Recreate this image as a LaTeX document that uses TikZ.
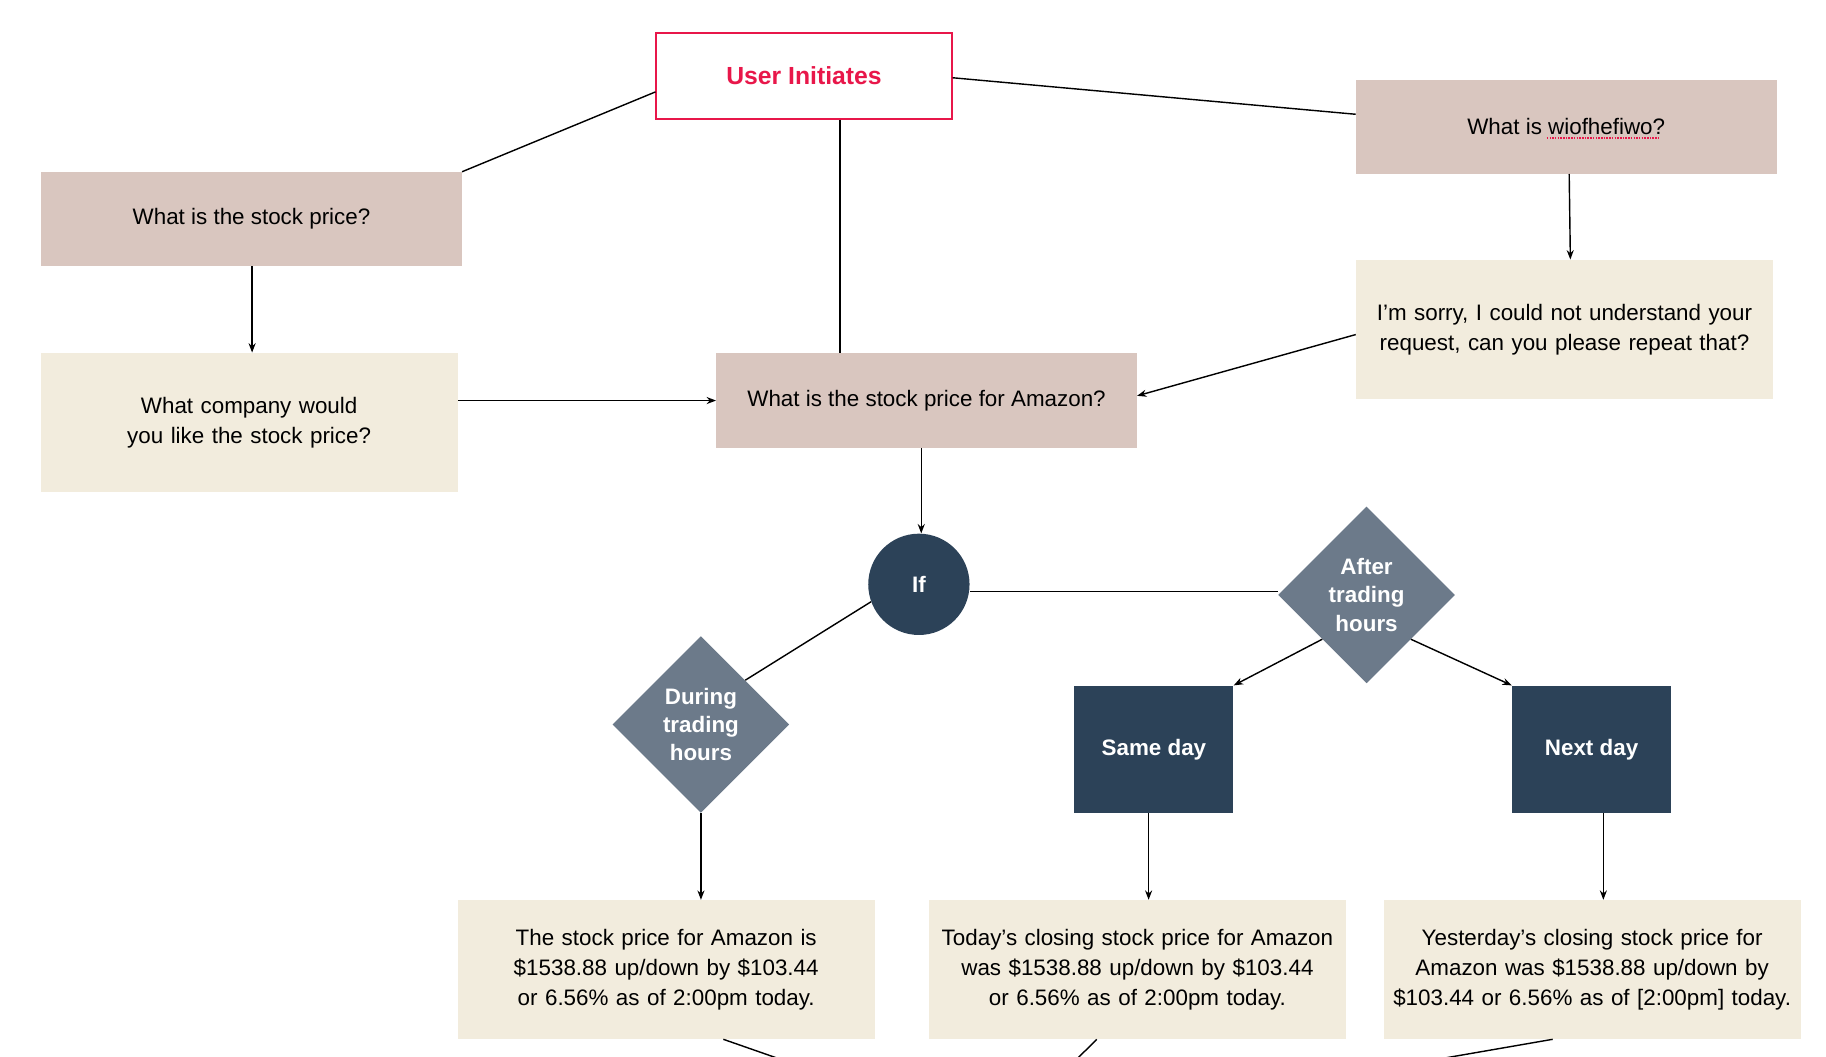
\documentclass[tikz,border=0pt]{standalone}
\usepackage{fontspec}
\setmainfont{Liberation Sans}
\usetikzlibrary{shapes.geometric,arrows.meta}
\definecolor{tan}{HTML}{D9C6BF}
\definecolor{cream}{HTML}{F2ECDD}
\definecolor{navy}{HTML}{2C4258}
\definecolor{slate}{HTML}{6C7A8A}
\definecolor{ured}{HTML}{E8174A}
\begin{document}
\begin{tikzpicture}[x=1pt,y=-1pt,
  every node/.style={font=\fontsize{19}{25.5}\selectfont, inner sep=0, align=center},
  box/.style={rectangle, minimum width=#1},
  tanbox/.style={box=357, fill=tan, minimum height=80},
  creambox/.style={box=354, fill=cream, minimum height=118, text width=340},
  dark/.style={rectangle, fill=navy, text=white, font=\fontsize{19}{25}\selectfont\bfseries, minimum width=135, minimum height=108},
  dia/.style={diamond, fill=slate, text=white, font=\fontsize{19}{24}\selectfont\bfseries, minimum width=150, minimum height=150, aspect=1},
  ln/.style={line width=1.2pt, black},
  ar/.style={ln, -{Stealth[length=8pt,width=6pt]}}]
\useasboundingbox (0,0) rectangle (1550,897);
\node[box=251, minimum height=73, draw=ured, line width=1.2pt, text=ured, font=\fontsize{21}{25}\selectfont\bfseries] (usr) at (682.5,64.5) {User Initiates};
\node[tanbox] (sp) at (213.5,186) {What is the stock price?};
\node[tanbox] (wi) at (1329.5,107.5) {What is {wiofhefiwo}?};
\draw[ured, densely dotted, line width=1.3pt] (1313,117) -- (1408,117);
\node[creambox] (co) at (211.5,358.5) {What company would you like the stock price?};
\node[tanbox] (am) at (786.5,340) {What is the stock price for {Amazon}?};
\node[creambox] (so) at (1328,279.5) {I’m sorry, I could not understand your request, can you please repeat that?};
\node[circle, fill=navy, minimum size=86, text=white, font=\fontsize{19}{24}\selectfont\bfseries] (if) at (780,496) {If};
\node[dia] (af) at (1160,505) {After\\trading\\hours};
\node[dia] (du) at (595,615) {During\\trading\\hours};
\node[dark] (sd) at (979.5,636) {Same day};
\node[dark] (nd) at (1351,636) {Next day};
\node[creambox] (b1) at (565.5,823) {The stock price for {Amazon} is {\$1538.88} {up/down} by {\$103.44} or {6.56\%} as of {2:00pm} today.};
\node[creambox] (b2) at (965.5,823) {Today’s closing stock price for {Amazon} was {\$1538.88} {up/down} by {\$103.44} or {6.56\%} as of {2:00pm} today.};
\node[creambox] (b3) at (1351.5,823) {Yesterday’s closing stock price for {Amazon} was {\$1538.88} {up/down} by {\$103.44} or {6.56\%} as of [2:00pm] today.};
\coordinate (e1) at (685,907);
\coordinate (e2) at (906,907);
\coordinate (e3) at (1175,907);
% connectors
\draw[ln] (usr.west |- 0,78) -- (sp.north east);
\draw[ln] (usr.east |- 0,66) -- (wi.west |- 0,97);
\draw[ln] (usr.south -| 713,0) -- (am.north -| 713,0);
\draw[ar] (sp.south -| 214,0) -- (co.north -| 214,0);
\draw[ar] (co.east |- am.west) -- (am.west);
\draw[ar] (so.west |- 0,284) -- (am.east |- 0,336);
\draw[ar] (wi.south -| 1332,0) -- (so.north -| 1333,0);
\draw[ar] (am.south -| 782,0) -- (if.north -| 782,0);
\draw[ln] (if.east |- 0,502) -- (af.west |- 0,502);
\draw[ln] (if.200) -- (du.north east);
\draw[ar] (af.south west) -- (sd.north east);
\draw[ar] (af.south east) -- (nd.north west);
\draw[ar] (du.south) -- (b1.north -| du.south);
\draw[ar] (sd.south -| 975,0) -- (b2.north -| 975,0);
\draw[ar] (nd.south -| 1361,0) -- (b3.north -| 1361,0);
\draw[ln] (b1.south -| 614,0) -- (e1);
\draw[ln] (b2.south -| 931,0) -- (e2);
\draw[ln] (b3.south -| 1318,0) -- (e3);
\end{tikzpicture}
\end{document}
